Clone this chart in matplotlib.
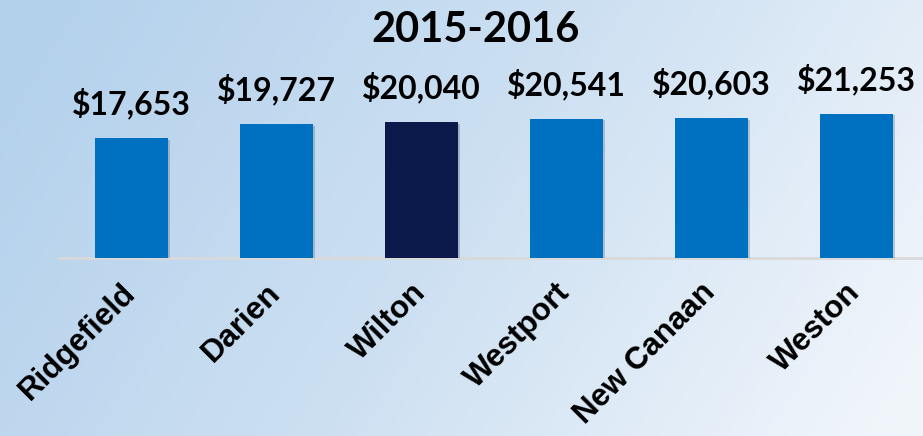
import numpy as np
import matplotlib
matplotlib.use("Agg")
import matplotlib.pyplot as plt
import matplotlib.transforms as mtransforms
import matplotlib.patheffects as pe
from matplotlib.colors import LinearSegmentedColormap

# --- data ---
towns = ["Ridgefield", "Darien", "Wilton", "Westport", "New Canaan", "Weston"]
spending = [17653, 19727, 20040, 20541, 20603, 21253]
bar_colors = ["#0070C0", "#0070C0", "#0B1A4A", "#0070C0", "#0070C0", "#0070C0"]
title = "2015-2016"

fig = plt.figure(figsize=(9.23, 4.36), dpi=100)

# background gradient (light blue on the left, almost white on the right)
bg = fig.add_axes([0, 0, 1, 1], zorder=-10)
xx, yy = np.meshgrid(np.linspace(0, 1, 400), np.linspace(1, 0, 200))
t = np.clip(0.85 * xx + 0.25 * (1 - yy) - 0.05, 0, 1)
cmap = LinearSegmentedColormap.from_list("bg", ["#B4D1EC", "#CDE0F2", "#F0F5FB"])
bg.imshow(t, cmap=cmap, aspect="auto", extent=[0, 1, 0, 1], vmin=0, vmax=1)
bg.axis("off")

# main axes: baseline at y=258px, spacing 145px per category
ax = fig.add_axes([59 / 923, 1 - 258 / 436, 870 / 923, 258 / 436])
ax.patch.set_alpha(0)
x = np.arange(len(towns))
bars = ax.bar(x, spending, width=0.5, color=bar_colors, zorder=3)
for b in bars:
    b.set_path_effects([pe.SimplePatchShadow(offset=(1.5, -1), alpha=0.2), pe.Normal()])
ax.set_xlim(-0.5, 5.5)
ax.set_ylim(0, 38050)

for spine in ["top", "right", "left"]:
    ax.spines[spine].set_visible(False)
ax.spines["bottom"].set_color("#D9D9D9")
ax.spines["bottom"].set_linewidth(2)
ax.set_yticks([])

for b, v in zip(bars, spending):
    ax.annotate(f"${v:,}", xy=(b.get_x() + b.get_width() / 2, v),
                xytext=(0, 17), textcoords="offset points",
                ha="center", va="baseline", fontsize=23,
                fontweight="bold", family="Lato", color="black")

ax.set_xticks(x)
ax.set_xticklabels(towns, rotation=45, ha="right", rotation_mode="anchor",
                   fontsize=22.5, fontweight="bold", family="Liberation Sans")
ax.tick_params(axis="x", length=0, pad=14)
offset = mtransforms.ScaledTranslation(-11 / 100, 0, fig.dpi_scale_trans)
for lbl in ax.get_xticklabels():
    lbl.set_transform(lbl.get_transform() + offset)

fig.text(476 / 923, 1 - 42 / 436, title, ha="center", va="baseline",
         fontsize=30, fontweight="bold", family="Lato")

plt.savefig("out.png", dpi=100)
